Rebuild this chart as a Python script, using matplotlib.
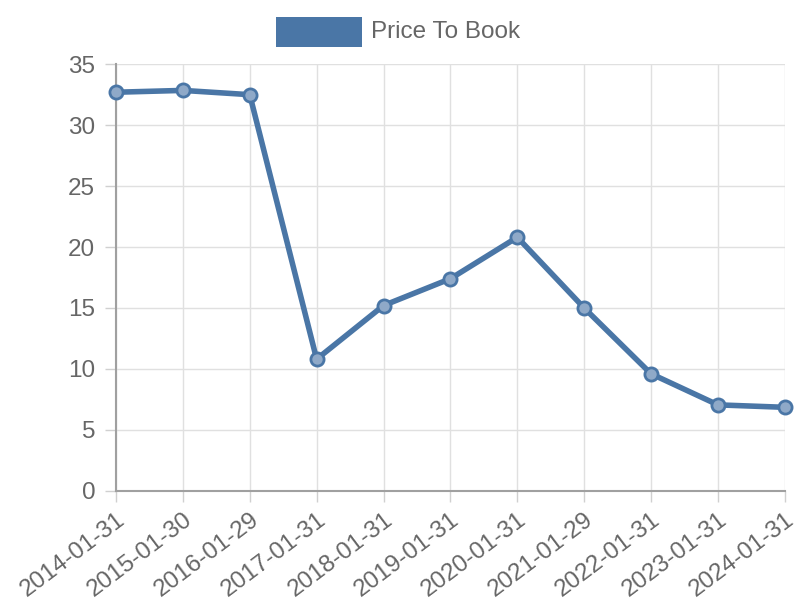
import matplotlib.pyplot as plt
import matplotlib.transforms as mtransforms
from matplotlib.patches import Rectangle

dates = ['2014-01-31', '2015-01-30', '2016-01-29', '2017-01-31', '2018-01-31',
         '2019-01-31', '2020-01-31', '2021-01-29', '2022-01-31', '2023-01-31',
         '2024-01-31']
price_to_book = [32.7, 32.85, 32.5, 10.8, 15.2, 17.4, 20.8, 15.0, 9.6, 7.05, 6.85]
y_ticks = [0, 5, 10, 15, 20, 25, 30, 35]

line_color = '#4a76a6'
text_color = '#666666'

plt.rcParams['font.family'] = ['Liberation Sans', 'DejaVu Sans']

fig = plt.figure(figsize=(8, 6), dpi=100)
ax = fig.add_axes([0.145, 0.182, 0.836, 0.711])

x = list(range(len(dates)))
ax.plot(x, price_to_book, color=line_color, linewidth=4, zorder=3,
        solid_capstyle='round', solid_joinstyle='round')
ax.scatter(x, price_to_book, s=90, facecolor='#8fa9c8', edgecolor=line_color,
           linewidth=2, zorder=4, clip_on=False)

ax.set_xlim(0, len(dates) - 1)
ax.set_ylim(0, 35)
ax.set_xticks(x)
ax.set_xticklabels(dates, rotation=37, ha='right', rotation_mode='anchor')
ax.set_yticks(y_ticks)

# nudge rotated labels so their ends sit on the ticks
shift = mtransforms.ScaledTranslation(-5 / 100, 0, fig.dpi_scale_trans)
for lbl in ax.get_xticklabels():
    lbl.set_transform(lbl.get_transform() + shift)

ax.grid(True, color='#e0e0e0', linewidth=1)
ax.set_axisbelow(True)
ax.tick_params(axis='both', colors='#d0d0d0', labelcolor=text_color,
               labelsize=17.5, length=8, width=1)
ax.tick_params(axis='x', pad=5)
ax.tick_params(axis='y', pad=7)
for side in ['top', 'right']:
    ax.spines[side].set_visible(False)
for side in ['left', 'bottom']:
    ax.spines[side].set_color('#a0a0a0')
    ax.spines[side].set_linewidth(1.5)

# legend box + label
fig.add_artist(Rectangle((276 / 800, 1 - 47 / 600), 86 / 800, 30 / 600,
                         transform=fig.transFigure, facecolor=line_color,
                         edgecolor='none'))
fig.text(371 / 800, 1 - 32 / 600, 'Price To Book', color=text_color,
         fontsize=17.5, va='center', ha='left')

fig.savefig('out.png', dpi=100)
